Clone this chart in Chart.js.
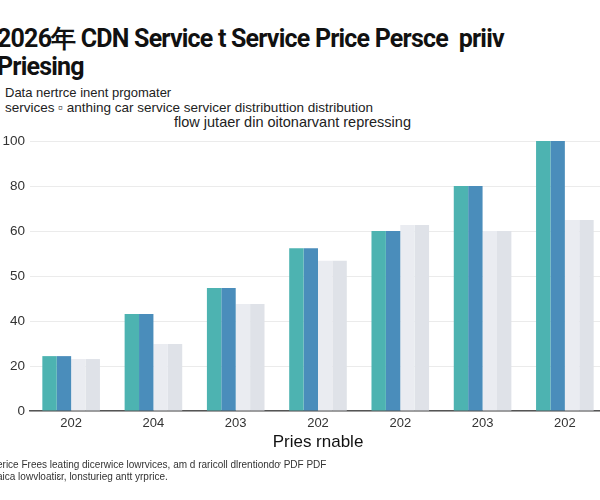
<!DOCTYPE html>
<html>
<head>
<meta charset="utf-8">
<script src="https://cdn.jsdelivr.net/npm/chart.js@4.4.1/dist/chart.umd.min.js"></script>
<style>
    html, body { margin: 0; padding: 0; background: #fff; }
    body { width: 600px; height: 500px; position: relative; overflow: hidden; font-family: "Liberation Sans", Arial, sans-serif; }
    .title { position: absolute; left: -3px; top: 25px; font-family: Roboto, "Liberation Sans", sans-serif; font-size: 25px; font-weight: bold; line-height: 28px; color: #111; white-space: nowrap; letter-spacing: -0.8px; }
    .subtitle { position: absolute; font-size: 13px; color: #222; white-space: nowrap; }
    .footer { position: absolute; left: -3px; font-size: 10px; color: #333; white-space: nowrap; }
    #chartWrap { position: absolute; left: 0; top: 128px; width: 606px; height: 337px; }
</style>
</head>
<body>
<div class="title">2026年 CDN Service t Service Price Persce&nbsp; priiv<br>Priesing</div>
<div class="subtitle" style="left:5px; top:85px;">Data nertrce inent prgomater</div>
<div class="subtitle" style="left:5px; top:100px; font-size:13.5px;">services ▫ anthing car service servicer distributtion distribution</div>
<div class="subtitle" style="left:174px; top:114px; font-size:14.5px;">flow jutaer din oitonarvant repressing</div>
<div id="chartWrap"><canvas id="priceChart"></canvas></div>
<div class="footer" style="top:459px;">erice Frees leating dicerwice lowrvices, am d raricoll dlrentiondơ PDF PDF</div>
<div class="footer" style="top:471px;">aica lowvloatiɛr, lonsturieg antt yrprice.</div>

<script>
// Chart data
const categories = ['202', '204', '203', '202', '202', '203', '202'];
const tealValues = [24.4, 43.1, 54.7, 72.4, 80, 100, 120];
const blueValues = [24.4, 43.1, 54.7, 72.4, 80, 100, 120];
const lightValues = [23.1, 29.8, 47.6, 66.8, 82.7, 80, 84.9];
const greyValues = [23.1, 29.8, 47.6, 66.8, 82.7, 80, 84.9];
const yTickLabels = ['0', '20', '40', '50', '60', '80', '100'];

document.addEventListener('DOMContentLoaded', () => {
    renderPriceChart();
});

// Render grouped bar chart
function renderPriceChart() {
    const ctx = document.getElementById('priceChart');
    if (!ctx) return;

    new Chart(ctx, {
        type: 'bar',
        data: {
            labels: categories,
            datasets: [
                { label: 'A', data: tealValues, backgroundColor: '#4db3b1' },
                { label: 'B', data: blueValues, backgroundColor: '#4a8dbb' },
                { label: 'C', data: lightValues, backgroundColor: '#eaecf1' },
                { label: 'D', data: greyValues, backgroundColor: '#dfe2e8' }
            ]
        },
        options: {
            responsive: true,
            maintainAspectRatio: false,
            animation: false,
            layout: { padding: 0 },
            categoryPercentage: 0.7,
            barPercentage: 1.0,
            plugins: {
                legend: { display: false },
                tooltip: { enabled: false }
            },
            scales: {
                x: {
                    grid: { display: false, drawTicks: false },
                    border: { color: '#555', width: 1.5 },
                    ticks: { color: '#333', font: { family: 'Liberation Sans', size: 13 }, padding: 5 },
                    title: {
                        display: true,
                        text: 'Pries rnable',
                        color: '#111',
                        font: { family: 'Liberation Sans', size: 17 },
                        padding: { top: 3, bottom: 12 }
                    },
                    afterFit: scale => { scale.height = 54; }
                },
                y: {
                    min: 0,
                    max: 120,
                    ticks: {
                        stepSize: 20,
                        color: '#333',
                        padding: 5,
                        font: { family: 'Liberation Sans', size: 13.5 },
                        callback: (value, index) => yTickLabels[index]
                    },
                    grid: { color: '#ebebeb', drawTicks: false },
                    border: { display: false },
                    afterFit: scale => { scale.width = 30; }
                }
            }
        }
    });
}
</script>
</body>
</html>
